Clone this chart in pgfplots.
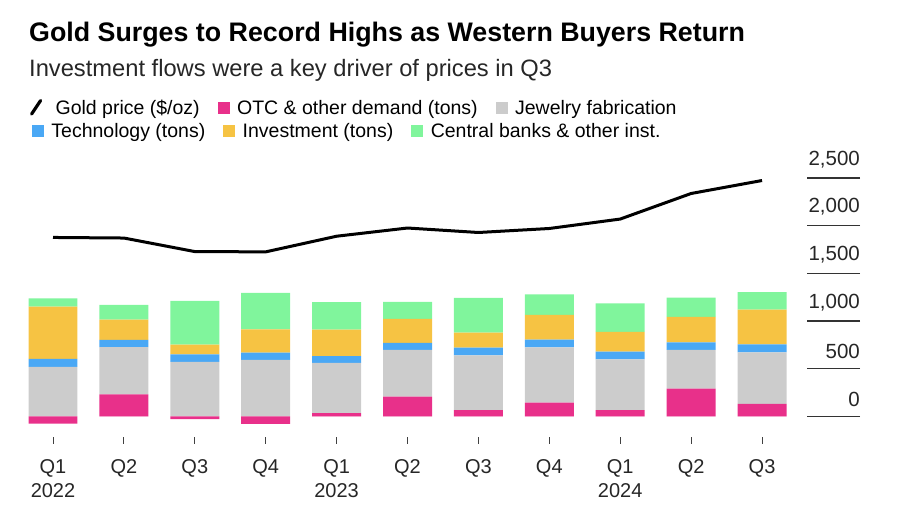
\documentclass[border=0pt]{standalone}
\usepackage{fontspec}
\setmainfont{Liberation Sans}
\usepackage{pgfplots}
\usepackage{pgfplotstable}
\pgfplotsset{compat=1.18}
\definecolor{otc}{HTML}{E8308A}
\definecolor{jew}{HTML}{CCCCCC}
\definecolor{tech}{HTML}{4AA8F5}
\definecolor{inv}{HTML}{F6C343}
\definecolor{cb}{HTML}{80F59C}
\pgfplotstableread{
q otc jew tech inv cb price
0 -75 520 83 550 85 1877
1 233 493 77 212 156 1871
2 -27 573 79 101 458 1729
3 -78 594 76 243 382 1726
4 35 527 70 278 288 1890
5 208 490 73 253 177 1976
6 66 576 80 156 365 1929
7 146 579 80 260 216 1971
8 66 534 80 208 299 2070
9 292 406 79 268 201 2338
10 131 542 83 365 184 2474
}\gold
\pgfplotsset{
  geom/.style={at={(10.46pt,-437pt)}, anchor=south west, scale only axis,
    width=796.6pt, height=268.5pt, xmin=-0.6, xmax=10.635, ymin=-215, ymax=2600},
  leg/.style={legend columns=-1,
    legend style={draw=none, fill=none, inner sep=0pt, outer sep=0pt,
      font=\fontsize{19.5}{22}\selectfont,
      nodes={inner sep=0pt, text height=14pt, text depth=4pt},
      /tikz/every odd column/.append style={column sep=8pt},
      /tikz/every even column/.append style={column sep=18pt}}},
}
\newcommand\sq[1]{\addlegendimage{legend image code/.code={\fill[#1] (0pt,-4pt) rectangle (11pt,7pt);}}}
\begin{document}
\begin{tikzpicture}
\useasboundingbox (0pt,0pt) rectangle (900pt,-510pt);
\node[anchor=base west, inner sep=0pt, font=\fontsize{26.8}{30}\selectfont\bfseries] at (29pt,-42pt) {Gold Surges to Record Highs as Western Buyers Return};
\node[anchor=base west, inner sep=0pt, font=\fontsize{23.7}{28}\selectfont, text=black!85] at (29pt,-77pt) {Investment flows were a key driver of prices in Q3};

% stacked bars
\begin{axis}[geom, axis lines=none, xtick=\empty, ytick=\empty,
  ybar stacked, bar width=0.691, leg,
  legend style={at={(0.02704,1.1341)}, anchor=west}]
\addplot[fill=otc, draw=none, forget plot] table[x=q, y expr={max(\thisrow{otc},0)}]{\gold};
\addplot[fill=jew, draw=none, forget plot] table[x=q, y=jew]{\gold};
\addplot[fill=tech, draw=none, forget plot] table[x=q, y=tech]{\gold};
\addplot[fill=inv, draw=none, forget plot] table[x=q, y=inv]{\gold};
\addplot[fill=cb, draw=none, forget plot] table[x=q, y=cb]{\gold};
\sq{tech}\addlegendentry{Technology (tons)}
\sq{inv}\addlegendentry{Investment (tons)}
\sq{cb}\addlegendentry{Central banks \& other inst.}
\end{axis}

% negative OTC, gold line, x ticks
\begin{axis}[geom, axis x line*=bottom, axis y line=none,
  x axis line style={draw=none}, ytick=\empty,
  xtick={0,...,10},
  xticklabels={{Q1\\2022},Q2,Q3,Q4,{Q1\\2023},Q2,Q3,Q4,{Q1\\2024},Q2,Q3},
  xticklabel style={align=center, inner sep=0pt, yshift=-15pt, font=\fontsize{20}{24}\selectfont, text=black!85},
  tick align=outside, major tick length=7pt,
  xtick style={draw=black!75, line width=0.9pt},
  leg, legend style={at={(0.02453,1.2235)}, anchor=west}]
\addplot[ybar, bar width=0.691, bar shift=0pt, fill=otc, draw=none, forget plot] table[x=q, y expr={min(\thisrow{otc},0)}]{\gold};
\addplot[black, line width=3pt, line join=round, mark=none, forget plot] table[x=q, y=price]{\gold};
\addlegendimage{legend image code/.code={\draw[black, line width=3.2pt, line cap=round] (1pt,-5pt) -- (10pt,8.5pt); \path[draw=none, fill=none] (0pt,0pt) rectangle (17pt,0.1pt);}}
\addlegendentry{Gold price (\$/oz)}
\sq{otc}\addlegendentry{OTC \& other demand (tons)}
\sq{jew}\addlegendentry{Jewelry fabrication}
\end{axis}

% right y ticks
\begin{axis}[geom, axis x line=none, axis y line*=right,
  y axis line style={draw=none}, xtick=\empty,
  ytick={0,500,1000,1500,2000,2500},
  yticklabels={0,500,{1,000},{1,500},{2,000},{2,500}},
  tick align=outside, major tick length=53pt,
  ytick style={draw=black!80, line width=1.3pt},
  yticklabel style={anchor=south east, inner sep=0pt, yshift=10pt, font=\fontsize{20.5}{24}\selectfont, text=black!85}]
\end{axis}
\end{tikzpicture}
\end{document}
